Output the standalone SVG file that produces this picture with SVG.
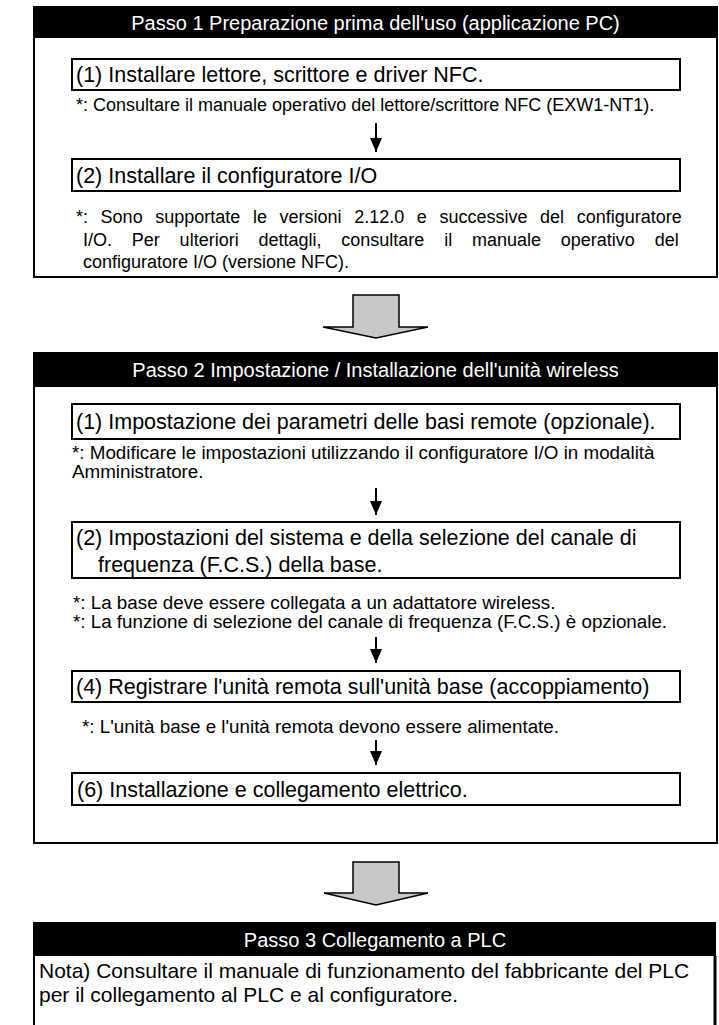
<svg xmlns="http://www.w3.org/2000/svg" width="719" height="1025" viewBox="0 0 719 1025">
<style>
.frame{fill:#fff;stroke:#000;stroke-width:2}
.band{fill:#000}
.hdr{font-family:"Liberation Sans",Arial,sans-serif;font-size:20px;fill:#fff;text-anchor:middle}
.box{fill:#fff;stroke:#000;stroke-width:2}
.bt{font-family:"Liberation Sans",Arial,sans-serif;font-size:21.5px;fill:#000}
.nt{font-family:"Liberation Sans",Arial,sans-serif;font-size:18px;fill:#000}
.nt2{font-family:"Liberation Sans",Arial,sans-serif;font-size:18.8px;fill:#000}
.ln{stroke:#000;stroke-width:2;fill:none}
.big{fill:#c8c8c8;stroke:#000;stroke-width:1.5;stroke-linejoin:miter}
</style>
<defs>
<marker id="ah" markerWidth="14" markerHeight="12" refX="14" refY="6" orient="auto" markerUnits="userSpaceOnUse" viewBox="0 0 14 12">
<path d="M0,0 L14,6 L0,12 Z" fill="#000"/>
</marker>
</defs>
<rect width="719" height="1025" fill="#fff"/>

<g id="step1">
<rect class="frame" x="34" y="7" width="683" height="270"/>
<rect class="band" x="34" y="7" width="683" height="31"/>
<text class="hdr" x="375.5" y="29.5">Passo 1 Preparazione prima dell'uso (applicazione PC)</text>
</g>
<g id="s1n1">
<rect class="box" x="72" y="59" width="608" height="31"/>
<text class="bt" x="76" y="82">(1) Installare lettore, scrittore e driver NFC.</text>
<text class="nt" x="76" y="111">*: Consultare il manuale operativo del lettore/scrittore NFC (EXW1-NT1).</text>
</g>
<g id="s1n2">
<rect class="box" x="72" y="159" width="608" height="32"/>
<text class="bt" x="76" y="182.5">(2) Installare il configuratore I/O</text>
<text class="nt" x="76" y="223" word-spacing="7.6">*: Sono supportate le versioni 2.12.0 e successive del configuratore</text>
<text class="nt" x="83" y="246" word-spacing="14.8">I/O. Per ulteriori dettagli, consultare il manuale operativo del</text>
<text class="nt" x="83" y="268">configuratore I/O (versione NFC).</text>
</g>

<g id="step2">
<rect class="frame" x="34" y="353" width="683" height="490"/>
<rect class="band" x="34" y="353" width="683" height="34"/>
<text class="hdr" x="375.5" y="377">Passo 2 Impostazione / Installazione dell'unità wireless</text>
</g>
<g id="s2n1">
<rect class="box" x="72" y="404" width="608" height="35"/>
<text class="bt" x="76" y="429">(1) Impostazione dei parametri delle basi remote (opzionale).</text>
<text class="nt2" x="72" y="459">*: Modificare le impostazioni utilizzando il configuratore I/O in modalità</text>
<text class="nt2" x="72" y="478">Amministratore.</text>
</g>
<g id="s2n2">
<rect class="box" x="72" y="522" width="608" height="56"/>
<text class="bt" x="76" y="544.5">(2) Impostazioni del sistema e della selezione del canale di</text>
<text class="bt" x="98" y="571.5">frequenza (F.C.S.) della base.</text>
<text class="nt2" x="73" y="609">*: La base deve essere collegata a un adattatore wireless.</text>
<text class="nt2" x="73" y="628">*: La funzione di selezione del canale di frequenza (F.C.S.) è opzionale.</text>
</g>
<g id="s2n4">
<rect class="box" x="72" y="671" width="608" height="31"/>
<text class="bt" x="76" y="694">(4) Registrare l'unità remota sull'unità base (accoppiamento)</text>
<text class="nt2" x="82" y="733">*: L'unità base e l'unità remota devono essere alimentate.</text>
</g>
<g id="s2n6">
<rect class="box" x="72" y="773" width="608" height="32"/>
<text class="bt" x="77" y="796.5">(6) Installazione e collegamento elettrico.</text>
</g>

<g id="step3">
<path class="ln" d="M34,1025 V923 H715 V1025"/>
<rect class="band" x="34" y="923" width="681" height="33"/>
<line x1="715" y1="956" x2="715" y2="1025" stroke="#000" stroke-width="3"/>
<text class="hdr" x="375" y="947">Passo 3 Collegamento a PLC</text>
<text class="bt" x="39" y="977.5" style="font-size:21px">Nota) Consultare il manuale di funzionamento del fabbricante del PLC</text>
<text class="bt" x="39" y="1001.5" style="font-size:21px">per il collegamento al PLC e al configuratore.</text>
</g>

<g id="connectors">
<line class="ln" x1="376" y1="123" x2="376" y2="152" marker-end="url(#ah)"/>
<line class="ln" x1="376" y1="488" x2="376" y2="515" marker-end="url(#ah)"/>
<line class="ln" x1="376" y1="637" x2="376" y2="663" marker-end="url(#ah)"/>
<line class="ln" x1="376" y1="740" x2="376" y2="765" marker-end="url(#ah)"/>
<polygon class="big" points="353,295 399,295 399,327 428,327 376,338 323,327 353,327"/>
<polygon class="big" points="353,862 399,862 399,893 428,893 376,905 324,893 353,893"/>
</g>
</svg>
